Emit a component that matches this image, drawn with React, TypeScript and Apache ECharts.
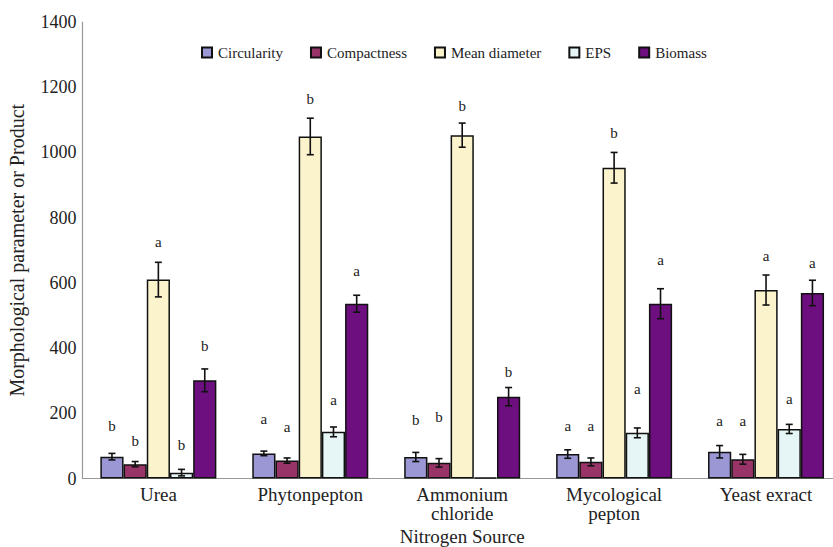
import { useEffect, useRef } from 'react';
import * as echarts from 'echarts';

// Nitrogen sources on the x axis
const categories = ['Urea', 'Phytonpepton', 'Ammonium\nchloride', 'Mycological\npepton', 'Yeast exract'];
const seriesNames = ['Circularity', 'Compactness', 'Mean diameter', 'EPS', 'Biomass'];

// Means, standard errors, significance letters and letter heights (axis units)
const circularity = [67, 77, 66, 75, 82];
const circularitySE = [10, 7, 14, 13, 19];
const circularityLetters = ['b', 'a', 'b', 'a', 'a'];
const circularityLetterY = [162, 182, 178, 161, 176];

const compactness = [44, 55, 48, 51, 59];
const compactnessSE = [8, 8, 13, 12, 15];
const compactnessLetters = ['b', 'a', 'b', 'a', 'a'];
const compactnessLetterY = [116, 159, 188, 161, 176];

const meanDiameter = [610, 1049, 1053, 953, 578];
const meanDiameterSE = [53, 56, 37, 47, 46];
const meanDiameterLetters = ['a', 'b', 'b', 'b', 'a'];
const meanDiameterLetterY = [726, 1163, 1142, 1059, 682];

const eps = [18, 143, 3, 140, 152];
const epsSE = [10, 15, 0, 15, 14];
const epsLetters = ['b', 'a', '', 'a', 'a'];
const epsLetterY = [102, 241, 0, 274, 244];

const biomass = [301, 536, 251, 536, 569];
const biomassSE = [35, 26, 28, 46, 39];
const biomassLetters = ['b', 'a', 'b', 'a', 'a'];
const biomassLetterY = [407, 637, 328, 670, 662];

const yTicks = { min: 0, max: 1400, interval: 200 };

const values = [circularity, compactness, meanDiameter, eps, biomass];
const errors = [circularitySE, compactnessSE, meanDiameterSE, epsSE, biomassSE];
const letters = [circularityLetters, compactnessLetters, meanDiameterLetters, epsLetters, biomassLetters];
const letterY = [circularityLetterY, compactnessLetterY, meanDiameterLetterY, epsLetterY, biomassLetterY];

const colors = ['#9b97d4', '#993468', '#faf3cc', '#e6f5f5', '#6e0f80'];
const FONT = 'Liberation Serif, Times New Roman, serif';
const BAR_W = 23.2;
const TEXT = '#222';

export default function App() {
  const ref = useRef<HTMLDivElement>(null);

  useEffect(() => {
    if (!ref.current) return;
    const chart = echarts.init(ref.current, undefined, { renderer: 'svg' });

    const barSeries = seriesNames.map((name, k) => ({
      name,
      type: 'bar',
      data: values[k],
      barWidth: BAR_W,
      barGap: '0%',
      itemStyle: { color: colors[k], borderColor: '#111', borderWidth: 1.5 },
      z: 2,
    }));

    const errSeries = seriesNames.map((name, k) => ({
      name: name + ' error',
      type: 'custom',
      clip: false,
      z: 5,
      encode: { x: 0, y: 1 },
      data: categories.map((_, i) => [i, values[k][i], errors[k][i], letterY[k][i]]),
      renderItem: (params: any, api: any) => {
        const idx = api.value(0);
        const v = api.value(1);
        const se = api.value(2);
        const ly = api.value(3);
        const base = api.coord([idx, v]);
        const x = base[0] + (k - 2) * BAR_W;
        const children: any[] = [];
        if (se > 0) {
          const top = api.coord([idx, v + se])[1];
          const bot = api.coord([idx, v - se])[1];
          const st = { stroke: '#111', lineWidth: 1.6 };
          children.push(
            { type: 'line', shape: { x1: x, y1: top, x2: x, y2: bot }, style: st },
            { type: 'line', shape: { x1: x - 3.5, y1: top, x2: x + 3.5, y2: top }, style: st },
            { type: 'line', shape: { x1: x - 3.5, y1: bot, x2: x + 3.5, y2: bot }, style: st },
          );
        }
        const letter = letters[k][params.dataIndex];
        if (letter) {
          const yy = api.coord([idx, ly])[1];
          children.push({
            type: 'text',
            x,
            y: yy,
            style: {
              text: letter,
              fill: TEXT,
              fontSize: 15,
              fontFamily: FONT,
              align: 'center',
              verticalAlign: 'middle',
            },
          });
        }
        return { type: 'group', children };
      },
    }));

    chart.setOption({
      animation: false,
      backgroundColor: '#fff',
      textStyle: { fontFamily: FONT },
      grid: {
        left: 82.4,
        right: -9,
        top: 22,
        bottom: 68.5,
        containLabel: false,
        outerBoundsMode: 'none',
      },
      legend: {
        data: seriesNames,
        left: 196,
        top: 40,
        icon: 'rect',
        itemWidth: 10,
        itemHeight: 10,
        itemGap: 27,
        textStyle: { fontSize: 15, color: TEXT, fontFamily: FONT, padding: [0, 0, 0, 1] },
      },
      xAxis: {
        type: 'category',
        data: categories,
        name: 'Nitrogen Source',
        nameLocation: 'middle',
        nameGap: 48,
        nameTextStyle: { fontSize: 19, color: TEXT, fontFamily: FONT },
        axisLine: { lineStyle: { color: '#999', width: 1.2 } },
        axisTick: { show: false },
        axisLabel: { interval: 0, fontSize: 19, lineHeight: 19, color: TEXT, fontFamily: FONT, margin: 6 },
      },
      yAxis: {
        type: 'value',
        min: yTicks.min,
        max: yTicks.max,
        interval: yTicks.interval,
        name: 'Morphological parameter or Product',
        nameLocation: 'middle',
        nameGap: 55,
        nameTextStyle: { fontSize: 20, color: TEXT, fontFamily: FONT },
        axisLine: { show: true, lineStyle: { color: '#999', width: 1.2 } },
        axisTick: { show: false },
        splitLine: { show: false },
        axisLabel: {
          fontSize: 18,
          color: TEXT,
          fontFamily: FONT,
          margin: 6,
          formatter: (v: number) => String(v),
        },
      },
      series: [...barSeries, ...errSeries],
    });

    return () => chart.dispose();
  }, []);

  return (
    <div
      ref={ref}
      style={{ position: 'fixed', left: 0, top: 0, width: 833, height: 547, background: '#fff' }}
    />
  );
}
